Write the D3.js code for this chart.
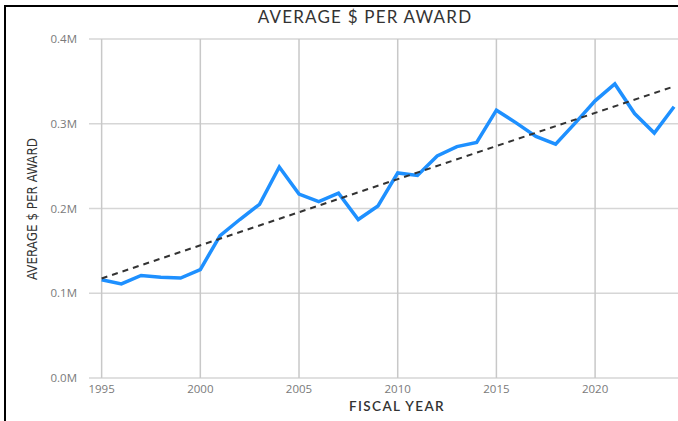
<!DOCTYPE html>
<html>
<head>
<meta charset="utf-8">
<script src="https://cdn.jsdelivr.net/npm/d3@7"></script>
<style>
html,body{margin:0;padding:0;background:#fff;}
svg{display:block;}
</style>
</head>
<body>
<svg id="chart" width="678" height="421"></svg>
<script>
const years = [1995,1996,1997,1998,1999,2000,2001,2002,2003,2004,2005,2006,2007,2008,2009,2010,2011,2012,2013,2014,2015,2016,2017,2018,2019,2020,2021,2022,2023,2024];
const avgPerAward = [0.116,0.111,0.121,0.119,0.118,0.128,0.168,0.187,0.205,0.249,0.217,0.208,0.218,0.187,0.203,0.242,0.239,0.262,0.273,0.278,0.316,0.301,0.285,0.276,0.301,0.327,0.347,0.312,0.289,0.320];
const yTicks = [0,0.1,0.2,0.3,0.4];
const xTicks = [1995,2000,2005,2010,2015,2020];
const titleText = "AVERAGE $ PER AWARD";
const xTitle = "FISCAL YEAR";
const yTitle = "AVERAGE $ PER AWARD";

const svg = d3.select("#chart");
const x = d3.scaleLinear().domain([1994.36, 2024.2]).range([89, 678]);
const y = d3.scaleLinear().domain([0, 0.4]).range([378, 39]);

// frame lines (left and top)
svg.append("line").attr("x1",5).attr("x2",5).attr("y1",5).attr("y2",421).attr("stroke","#000").attr("stroke-width",2);
svg.append("line").attr("x1",4).attr("x2",678).attr("y1",6).attr("y2",6).attr("stroke","#000").attr("stroke-width",2);

// horizontal grid
svg.append("g").selectAll("line").data(yTicks).join("line")
  .attr("x1",89).attr("x2",678)
  .attr("y1",d=>y(d)).attr("y2",d=>y(d))
  .attr("stroke","#d6d6d6").attr("stroke-width",1.5);
// vertical grid
svg.append("g").selectAll("line").data(xTicks).join("line")
  .attr("x1",d=>x(d)).attr("x2",d=>x(d))
  .attr("y1",y(0.4)).attr("y2",y(0))
  .attr("stroke","#c8c8c8").attr("stroke-width",1.5);

// y tick labels
svg.append("g").selectAll("text").data(yTicks).join("text")
  .attr("x",77).attr("y",d=>y(d)).attr("dy","0.35em")
  .attr("text-anchor","end")
  .attr("font-family","Open Sans, sans-serif").attr("font-size",11.5)
  .attr("fill","#7a7a7a")
  .text(d=>d3.format(".1f")(d)+"M");
// x tick labels
svg.append("g").selectAll("text").data(xTicks).join("text")
  .attr("x",d=>x(d)).attr("y",389).attr("dy","0.35em")
  .attr("text-anchor","middle")
  .attr("font-family","Open Sans, sans-serif").attr("font-size",11.5)
  .attr("fill","#7a7a7a")
  .text(d=>d);

// data line
const pts = years.map((yr,i)=>[yr,avgPerAward[i]]);
svg.append("path").datum(pts)
  .attr("fill","none").attr("stroke","#1e90ff").attr("stroke-width",3.5)
  .attr("stroke-linejoin","miter")
  .attr("d", d3.line().x(d=>x(d[0])).y(d=>y(d[1])));

// linear trend (least squares over the data)
const mx = d3.mean(years), my = d3.mean(avgPerAward);
const slope = d3.sum(years.map((yr,i)=>(yr-mx)*(avgPerAward[i]-my))) / d3.sum(years.map(yr=>(yr-mx)*(yr-mx)));
const trend = [years[0], years[years.length-1]].map(yr=>[yr, my + slope*(yr-mx)]);
svg.append("path").datum(trend)
  .attr("fill","none").attr("stroke","#333").attr("stroke-width",2)
  .attr("stroke-dasharray","6,5")
  .attr("d", d3.line().x(d=>x(d[0])).y(d=>y(d[1])));

// titles
svg.append("text").attr("x",365).attr("y",23).attr("text-anchor","middle")
  .attr("font-family","Lato, sans-serif").attr("font-size",17).attr("letter-spacing",1.2)
  .attr("fill","#333").text(titleText);
svg.append("text").attr("x",397).attr("y",411).attr("text-anchor","middle")
  .attr("font-family","Lato, sans-serif").attr("font-size",13.5).attr("font-weight",600).attr("letter-spacing",1.4)
  .attr("fill","#333").text(xTitle);
svg.append("text").attr("transform","translate(37,209) rotate(-90)").attr("text-anchor","middle")
  .attr("font-family","DejaVu Sans Condensed, Roboto, sans-serif").attr("font-size",14.5).attr("font-stretch","condensed")
  .attr("textLength",142).attr("lengthAdjust","spacingAndGlyphs")
  .attr("fill","#333").text(yTitle);
</script>
</body>
</html>
